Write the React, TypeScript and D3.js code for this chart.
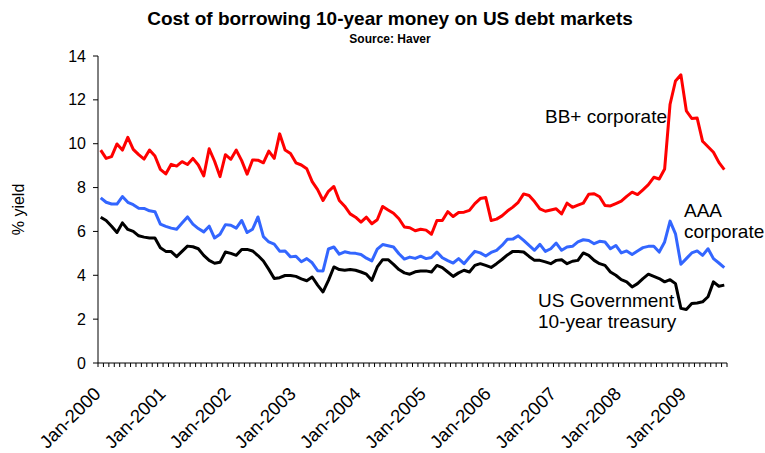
import React from "react";
import * as d3 from "d3";

const monthNames = ["Jan", "Feb", "Mar", "Apr", "May", "Jun", "Jul", "Aug", "Sep", "Oct", "Nov", "Dec"];
const years = [2000, 2001, 2002, 2003, 2004, 2005, 2006, 2007, 2008, 2009];
const categories: string[] = years
  .flatMap((yr) => monthNames.map((m) => `${m}-${yr}`))
  .slice(0, 116); // Jan-2000 .. Aug-2009

const tickLabels = ["Jan-2000", "Jan-2001", "Jan-2002", "Jan-2003", "Jan-2004", "Jan-2005", "Jan-2006", "Jan-2007", "Jan-2008", "Jan-2009"];
const yTicks = [0, 2, 4, 6, 8, 10, 12, 14];

const bbCorporate = [
  9.71, 9.33, 9.41, 9.99, 9.71, 10.29, 9.74, 9.50, 9.30, 9.71, 9.44, 8.83,
  8.62, 9.06, 8.98, 9.18, 9.05, 9.33, 9.03, 8.53, 9.77, 9.20, 8.50, 9.50,
  9.29, 9.71, 9.23, 8.61, 9.26, 9.25, 9.13, 9.66, 9.33, 10.45, 9.71, 9.55,
  9.13, 9.03, 8.86, 8.27, 7.91, 7.41, 7.83, 8.05, 7.41, 7.15, 6.80, 6.65,
  6.42, 6.65, 6.35, 6.53, 7.14, 6.98, 6.83, 6.58, 6.20, 6.17, 6.03, 6.10,
  6.06, 5.87, 6.50, 6.50, 6.90, 6.68, 6.86, 6.88, 6.96, 7.27, 7.50, 7.55,
  6.50, 6.56, 6.71, 6.93, 7.11, 7.33, 7.71, 7.64, 7.36, 7.03, 6.92, 6.98,
  7.03, 6.80, 7.29, 7.10, 7.20, 7.29, 7.70, 7.72, 7.58, 7.18, 7.16, 7.27,
  7.38, 7.60, 7.79, 7.68, 7.90, 8.13, 8.47, 8.39, 8.85, 11.80, 12.86, 13.14,
  11.50, 11.15, 11.17, 10.11, 9.86, 9.61, 9.15, 8.82,
];

const aaaCorporate = [
  7.53, 7.33, 7.25, 7.25, 7.59, 7.33, 7.22, 7.06, 7.05, 6.94, 6.90, 6.33,
  6.23, 6.15, 6.10, 6.38, 6.66, 6.33, 6.13, 5.98, 6.24, 5.70, 5.87, 6.31,
  6.28, 6.15, 6.50, 5.95, 6.10, 6.66, 5.76, 5.52, 5.42, 5.10, 5.11, 4.84,
  4.87, 4.62, 4.76, 4.57, 4.21, 4.20, 5.20, 5.29, 4.96, 5.07, 5.02, 5.00,
  4.95, 4.78, 4.66, 5.19, 5.40, 5.35, 5.29, 4.98, 4.74, 4.83, 4.77, 4.87,
  4.76, 4.81, 5.06, 4.80, 4.67, 4.56, 4.76, 4.53, 4.82, 5.09, 5.02, 4.88,
  5.04, 5.14, 5.36, 5.64, 5.65, 5.80, 5.59, 5.36, 5.14, 5.41, 5.09, 5.21,
  5.47, 5.14, 5.29, 5.32, 5.52, 5.62, 5.59, 5.44, 5.55, 5.52, 5.21, 5.36,
  5.02, 5.11, 4.95, 5.11, 5.26, 5.32, 5.32, 5.06, 5.52, 6.47, 5.89, 4.50,
  4.76, 5.02, 5.11, 4.91, 5.21, 4.76, 4.56, 4.35,
];

const usTreasury10y = [
  6.65, 6.50, 6.24, 5.95, 6.39, 6.09, 6.00, 5.80, 5.74, 5.70, 5.70, 5.26,
  5.09, 5.08, 4.85, 5.09, 5.33, 5.30, 5.21, 4.91, 4.68, 4.55, 4.59, 5.06,
  5.00, 4.91, 5.18, 5.18, 5.11, 4.90, 4.65, 4.27, 3.85, 3.89, 3.99, 3.99,
  3.95, 3.84, 3.75, 3.92, 3.55, 3.24, 3.77, 4.38, 4.26, 4.23, 4.26, 4.23,
  4.15, 4.05, 3.77, 4.38, 4.71, 4.71, 4.50, 4.26, 4.11, 4.05, 4.16, 4.20,
  4.20, 4.15, 4.45, 4.35, 4.15, 3.95, 4.11, 4.23, 4.15, 4.45, 4.53, 4.45,
  4.36, 4.53, 4.72, 4.93, 5.09, 5.08, 5.06, 4.86, 4.68, 4.68, 4.61, 4.53,
  4.68, 4.71, 4.53, 4.64, 4.68, 5.02, 4.91, 4.68, 4.53, 4.45, 4.15, 4.00,
  3.80, 3.70, 3.47, 3.62, 3.85, 4.05, 3.95, 3.85, 3.70, 3.80, 3.62, 2.49,
  2.44, 2.71, 2.74, 2.79, 3.02, 3.70, 3.50, 3.55,
];

const seriesNames = ["BB+ corporate", "AAA corporate", "US Government 10-year treasury"];
const seriesColors = ["#ff0000", "#3366ff", "#000000"];

const W = 765;
const H = 453;
const FONT = "'Liberation Sans', Arial, sans-serif";

export default function App() {
  const x = d3.scaleBand<string>().domain(categories).range([98, 727]).padding(0);
  const y = d3.scaleLinear().domain([0, 14]).range([363, 56]);
  const cx = (c: string) => (x(c) as number) + x.bandwidth() / 2;

  const series = [bbCorporate, aaaCorporate, usTreasury10y];
  const line = d3
    .line<number>()
    .x((_, i) => cx(categories[i]))
    .y((v) => y(v));

  const boundaries = [...categories.map((c) => x(c) as number), x.range()[1]];

  return (
    <div style={{ position: "fixed", left: 0, top: 0 }}>
      <svg width={W} height={H} style={{ display: "block", background: "#fff" }} fontFamily={FONT}>
        <text x={390} y={25} textAnchor="middle" fontSize={19} fontWeight="bold">
          Cost of borrowing 10-year money on US debt markets
        </text>
        <text x={390} y={43} textAnchor="middle" fontSize={12} fontWeight="bold">
          Source: Haver
        </text>

        {/* y axis */}
        <line x1={98} x2={98} y1={y(14)} y2={y(0)} stroke="#000" strokeWidth={1} />
        {yTicks.map((t) => (
          <g key={t}>
            <line x1={93} x2={98} y1={y(t)} y2={y(t)} stroke="#000" />
            <text x={86} y={y(t)} dy="0.35em" textAnchor="end" fontSize={16}>
              {t}
            </text>
          </g>
        ))}
        <text transform={`translate(24, ${(y(0) + y(14)) / 2}) rotate(-90)`} textAnchor="middle" fontSize={16}>
          % yield
        </text>

        {/* x axis */}
        <line x1={98} x2={x.range()[1]} y1={y(0)} y2={y(0)} stroke="#000" />
        {boundaries.map((b, i) => (
          <line key={i} x1={b} x2={b} y1={y(0)} y2={y(0) + 4} stroke="#000" />
        ))}
        {tickLabels.map((lab) => (
          <text
            key={lab}
            transform={`translate(${cx(lab) + 1}, 395) rotate(-45)`}
            textAnchor="end"
            fontSize={18.5}
          >
            {lab}
          </text>
        ))}

        {/* lines */}
        {series.map((s, k) => (
          <path
            key={seriesNames[k]}
            d={line(s) || ""}
            fill="none"
            stroke={seriesColors[k]}
            strokeWidth={3}
            strokeLinejoin="round"
          />
        ))}

        {/* series labels */}
        <text x={545} y={123} fontSize={19}>BB+ corporate</text>
        <text x={684} y={216.5} fontSize={19}>AAA</text>
        <text x={684} y={238} fontSize={19}>corporate</text>
        <text x={538} y={306.5} fontSize={19}>US Government</text>
        <text x={538} y={328} fontSize={19}>10-year treasury</text>
      </svg>
    </div>
  );
}
